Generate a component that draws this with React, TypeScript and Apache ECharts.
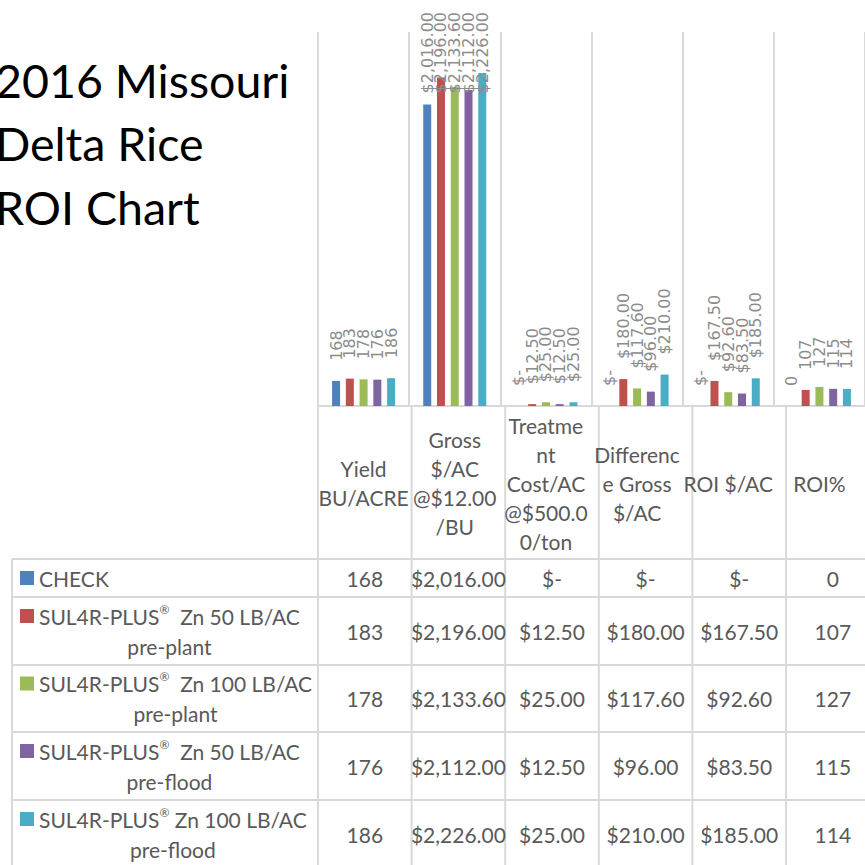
import { useEffect, useRef } from 'react';
import * as echarts from 'echarts';

// ---- data ----
const categories = [
  'Yield\nBU/ACRE',
  'Gross\n$/AC\n@$12.00\n/BU',
  'Treatme\nnt\nCost/AC\n@$500.0\n0/ton',
  'Differenc\ne Gross\n$/AC',
  'ROI $/AC',
  'ROI%',
];
const seriesNames = [
  'CHECK',
  'SUL4R-PLUS®  Zn 50 LB/AC\npre-plant',
  'SUL4R-PLUS®  Zn 100 LB/AC\npre-plant',
  'SUL4R-PLUS®  Zn 50 LB/AC\npre-flood',
  'SUL4R-PLUS® Zn 100 LB/AC\npre-flood',
];
const checkValues = [168, 2016, 0, 0, 0, 0];
const zn50PrePlant = [183, 2196, 12.5, 180, 167.5, 107];
const zn100PrePlant = [178, 2133.6, 25, 117.6, 92.6, 127];
const zn50PreFlood = [176, 2112, 12.5, 96, 83.5, 115];
const zn100PreFlood = [186, 2226, 25, 210, 185, 114];
const valueFormats = ['int', 'money', 'money', 'money', 'money', 'int'];
const titleLines = ['2016 Missouri', 'Delta Rice', 'ROI Chart'];
const yMax = 2500;

const seriesValues = [checkValues, zn50PrePlant, zn100PrePlant, zn50PreFlood, zn100PreFlood];
const colors = ['#4F81BD', '#C0504D', '#9BBB59', '#8064A2', '#4BACC6'];

// ---- layout ----
const GRID_LEFT = 318;
const GRID_TOP = 32;
const CAT_W = 93.6;
const GRID_H = 374;
const TABLE_LEFT = 12;
const ROW_Y = [559, 597, 665, 732, 800, 868];
const LINE_COLOR = '#d9d9d9';
const TEXT_COLOR = '#595959';
const TABLE_FONT = 'Lato';
const TABLE_SIZE = 21;
const LABEL_FAMILY = 'DejaVu Sans';
const LABEL_SIZE = 16;
const LABEL_DIST = 20;
const LABEL_TOP = 12;

function fmt(v: number, c: number): string {
  if (valueFormats[c] === 'int') return String(Math.round(v));
  if (v === 0) return '$-';
  return '$' + v.toLocaleString('en-US', { minimumFractionDigits: 2, maximumFractionDigits: 2 });
}

export default function App() {
  const ref = useRef<HTMLDivElement>(null);
  useEffect(() => {
    const el = ref.current!;
    const chart = echarts.init(el, null, { renderer: 'svg' });
    const canvas = document.createElement('canvas');
    const ctx = canvas.getContext('2d')!;
    const measure = (t: string, size: number, family: string) => {
      ctx.font = `${size}px "${family}"`;
      return ctx.measureText(t).width;
    };

    const gridW = CAT_W * categories.length;
    const graphics: any[] = [];

    // title
    graphics.push({
      type: 'text',
      x: -5,
      y: 48,
      silent: true,
      style: {
        text: titleLines.join('\n'),
        fontFamily: TABLE_FONT,
        fontSize: 46.5,
        lineHeight: 63.5,
        fill: '#000000',
        align: 'left',
        verticalAlign: 'top',
      },
    });

    // table lines
    const line = (x1: number, y1: number, x2: number, y2: number) => ({
      type: 'line',
      silent: true,
      shape: { x1, y1, x2, y2 },
      style: { stroke: LINE_COLOR, lineWidth: 2 },
    });
    for (let r = 0; r < ROW_Y.length; r++) {
      graphics.push(line(TABLE_LEFT, ROW_Y[r], GRID_LEFT + gridW, ROW_Y[r]));
    }
    graphics.push(line(TABLE_LEFT, ROW_Y[0], TABLE_LEFT, 870));
    for (let c = 0; c <= categories.length; c++) {
      const x = GRID_LEFT + c * CAT_W;
      graphics.push(line(x, GRID_TOP + GRID_H, x, 870));
    }

    // table rows
    seriesNames.forEach((name, s) => {
      const top = ROW_Y[s];
      const bottom = ROW_Y[s + 1];
      const mid = (top + bottom) / 2;
      const lines = name.split('\n');
      const lineH = 30;
      const firstY = mid - ((lines.length - 1) * lineH) / 2;
      // legend key
      graphics.push({
        type: 'rect',
        silent: true,
        shape: { x: 20, y: firstY - 7, width: 14, height: 14 },
        style: { fill: colors[s] },
      });
      // first line (with small registered mark)
      const first = lines[0];
      const parts = first.split('®');
      let richText = '';
      let w1 = 0;
      if (parts.length > 1) {
        richText = `{a|${parts[0]}}{r|®}{a|${parts[1]}}`;
        w1 =
          measure(parts[0], TABLE_SIZE, TABLE_FONT) +
          measure('®', 12, TABLE_FONT) +
          measure(parts[1], TABLE_SIZE, TABLE_FONT);
      } else {
        richText = `{a|${first}}`;
        w1 = measure(first, TABLE_SIZE, TABLE_FONT);
      }
      graphics.push({
        type: 'text',
        silent: true,
        x: 39,
        y: firstY,
        style: {
          text: richText,
          align: 'left',
          verticalAlign: 'middle',
          rich: {
            a: { fontFamily: TABLE_FONT, fontSize: TABLE_SIZE, fill: TEXT_COLOR, lineHeight: 26 },
            r: { fontFamily: TABLE_FONT, fontSize: 12, fill: TEXT_COLOR, lineHeight: 12, verticalAlign: 'top' },
          },
        },
      });
      for (let i = 1; i < lines.length; i++) {
        graphics.push({
          type: 'text',
          silent: true,
          x: 39 + w1 / 2,
          y: firstY + i * lineH,
          style: {
            text: lines[i],
            fontFamily: TABLE_FONT,
            fontSize: TABLE_SIZE,
            fill: TEXT_COLOR,
            align: 'center',
            verticalAlign: 'middle',
          },
        });
      }
      // values
      seriesValues[s].forEach((v, c) => {
        graphics.push({
          type: 'text',
          silent: true,
          x: GRID_LEFT + (c + 0.5) * CAT_W,
          y: mid,
          style: {
            text: fmt(v, c),
            fontFamily: TABLE_FONT,
            fontSize: TABLE_SIZE,
            fill: TEXT_COLOR,
            align: 'center',
            verticalAlign: 'middle',
          },
        });
      });
    });

    const option: any = {
      animation: false,
      backgroundColor: '#ffffff',
      grid: { left: GRID_LEFT, top: GRID_TOP, width: gridW, height: GRID_H, containLabel: false },
      xAxis: {
        type: 'category',
        data: categories,
        axisLine: { show: true, lineStyle: { color: LINE_COLOR, width: 2 } },
        axisTick: { show: false },
        splitLine: { show: true, interval: 0, lineStyle: { color: LINE_COLOR, width: 2 } },
        axisLabel: {
          interval: 0,
          margin: 77,
          verticalAlign: 'middle',
          fontFamily: TABLE_FONT,
          fontSize: TABLE_SIZE,
          lineHeight: 29,
          color: TEXT_COLOR,
        },
      },
      yAxis: {
        type: 'value',
        min: 0,
        max: yMax,
        show: false,
        splitLine: { show: false },
      },
      series: seriesValues.map((vals, s) => ({
        type: 'bar',
        name: seriesNames[s],
        data: vals,
        barWidth: 8,
        barGap: '72%',
        itemStyle: { color: colors[s] },
        label: {
          show: true,
          position: 'top',
          distance: LABEL_DIST,
          rotate: 90,
          align: 'left',
          verticalAlign: 'middle',
          fontFamily: LABEL_FAMILY,
          fontSize: LABEL_SIZE,
          color: '#8c8c8c',
          formatter: (p: any) => fmt(p.value, p.dataIndex),
        },
      })),
      graphic: graphics,
    };
    chart.setOption(option);

    // keep tall labels inside the chart area, like the original
    const adjusted = seriesValues.map((vals) => ({
      data: vals.map((v, c) => {
        const barTop = chart.convertToPixel({ yAxisIndex: 0 }, v) as number;
        const L = measure(fmt(v, c), LABEL_SIZE, LABEL_FAMILY);
        const start = barTop - LABEL_DIST;
        if (start - L >= LABEL_TOP) return v;
        return { value: v, label: { position: ['50%', LABEL_TOP + L - barTop] } };
      }),
    }));
    chart.setOption({ series: adjusted });

    return () => chart.dispose();
  }, []);
  return (
    <div
      ref={ref}
      style={{ position: 'absolute', left: 0, top: 0, width: 865, height: 865, background: '#fff' }}
    />
  );
}
